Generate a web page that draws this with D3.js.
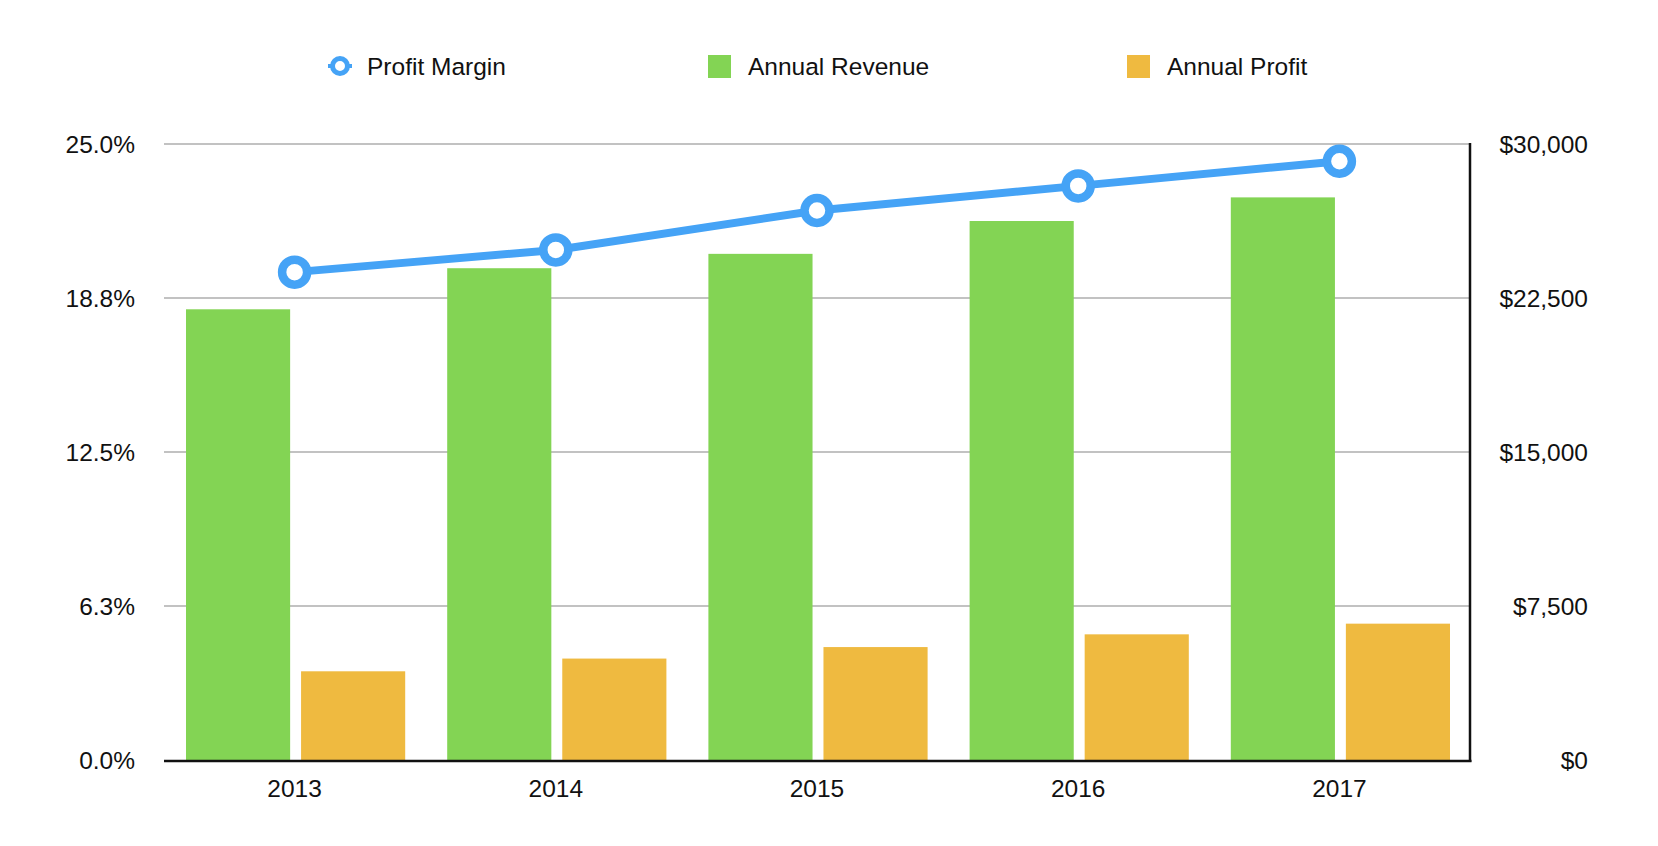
<!DOCTYPE html>
<html>
<head>
<meta charset="utf-8">
<script src="https://cdn.jsdelivr.net/npm/d3@7"></script>
<style>
  body { margin: 0; background: #fff; }
  svg { display: block; font-family: "Liberation Sans", Arial, Helvetica, sans-serif; }
</style>
</head>
<body>
<svg id="chart" width="1658" height="846"></svg>
<script>
var years = ["2013", "2014", "2015", "2016", "2017"];
var revenue = [21950, 23950, 24650, 26250, 27400];
var profit = [4320, 4940, 5500, 6120, 6640];
var margin = [19.8, 20.7, 22.3, 23.3, 24.3];
var leftTicks = [0, 6.25, 12.5, 18.75, 25];
var leftTickLabels = ["0.0%", "6.3%", "12.5%", "18.8%", "25.0%"];
var rightTicks = [0, 7500, 15000, 22500, 30000];

var seriesNames = ["Profit Margin", "Annual Revenue", "Annual Profit"];
var colors = { line: "#45a3f6", revenue: "#83d454", profit: "#efba40" };

var svg = d3.select("#chart");
var m = { left: 164, right: 1470, top: 144, bottom: 760 };
var fs = 24.5;

var x = d3.scaleBand().domain(years).range([m.left, m.right]).padding(0);
var xInner = d3.scaleBand().domain(["rev", "prof"])
    .range([22, x.bandwidth() - 20]).paddingInner(0.095);
var yLeft = d3.scaleLinear().domain([0, 25]).range([m.bottom, m.top]);
var yRight = d3.scaleLinear().domain([0, 30000]).range([m.bottom, m.top]);

// gridlines
svg.append("g").selectAll("line")
    .data(leftTicks.slice(1))
    .join("line")
    .attr("x1", m.left).attr("x2", m.right)
    .attr("y1", d => yLeft(d)).attr("y2", d => yLeft(d))
    .attr("stroke", "#c2c2c2").attr("stroke-width", 2);

// bars
var groups = svg.append("g").selectAll("g")
    .data(years)
    .join("g")
    .attr("transform", d => "translate(" + x(d) + ",0)");

groups.append("rect")
    .attr("x", xInner("rev"))
    .attr("width", xInner.bandwidth())
    .attr("y", (d, i) => yRight(revenue[i]))
    .attr("height", (d, i) => yRight(0) - yRight(revenue[i]))
    .attr("fill", colors.revenue);

groups.append("rect")
    .attr("x", xInner("prof"))
    .attr("width", xInner.bandwidth())
    .attr("y", (d, i) => yRight(profit[i]))
    .attr("height", (d, i) => yRight(0) - yRight(profit[i]))
    .attr("fill", colors.profit);

// axes lines
svg.append("line")
    .attr("x1", m.left).attr("x2", m.right + 1.5)
    .attr("y1", m.bottom + 1).attr("y2", m.bottom + 1)
    .attr("stroke", "#111").attr("stroke-width", 2.5);
svg.append("line")
    .attr("x1", m.right).attr("x2", m.right)
    .attr("y1", m.top - 1).attr("y2", m.bottom + 2)
    .attr("stroke", "#111").attr("stroke-width", 2.5);

// left axis labels
svg.append("g").selectAll("text")
    .data(leftTicks)
    .join("text")
    .attr("x", 135)
    .attr("y", d => yLeft(d))
    .attr("dy", "0.35em")
    .attr("text-anchor", "end")
    .attr("font-size", fs)
    .attr("fill", "#111")
    .text((d, i) => leftTickLabels[i]);

// right axis labels
var fmt = d3.format("$,");
svg.append("g").selectAll("text")
    .data(rightTicks)
    .join("text")
    .attr("x", 1588)
    .attr("y", d => yRight(d))
    .attr("dy", "0.35em")
    .attr("text-anchor", "end")
    .attr("font-size", fs)
    .attr("fill", "#111")
    .text(d => fmt(d));

// x labels
svg.append("g").selectAll("text")
    .data(years)
    .join("text")
    .attr("x", d => x(d) + x.bandwidth() / 2)
    .attr("y", 797)
    .attr("text-anchor", "middle")
    .attr("font-size", fs)
    .attr("fill", "#111")
    .text(d => d);

// line
var lineGen = d3.line()
    .x((d, i) => x(years[i]) + x.bandwidth() / 2)
    .y(d => yLeft(d));

svg.append("path")
    .datum(margin)
    .attr("d", lineGen)
    .attr("fill", "none")
    .attr("stroke", colors.line)
    .attr("stroke-width", 8);

svg.append("g").selectAll("circle")
    .data(margin)
    .join("circle")
    .attr("cx", (d, i) => x(years[i]) + x.bandwidth() / 2)
    .attr("cy", d => yLeft(d))
    .attr("r", 12.5)
    .attr("fill", "#fff")
    .attr("stroke", colors.line)
    .attr("stroke-width", 8.5);

// legend
var leg = svg.append("g").attr("font-size", fs).attr("fill", "#111");
var ly = 66;

leg.append("line")
    .attr("x1", 328).attr("x2", 352)
    .attr("y1", ly).attr("y2", ly)
    .attr("stroke", colors.line).attr("stroke-width", 4);
leg.append("circle")
    .attr("cx", 340).attr("cy", ly).attr("r", 7.5)
    .attr("fill", "#fff").attr("stroke", colors.line).attr("stroke-width", 5);
leg.append("text").attr("x", 367).attr("y", ly).attr("dy", "0.35em").text(seriesNames[0]);

leg.append("rect").attr("x", 708).attr("y", 55).attr("width", 23).attr("height", 23)
    .attr("fill", colors.revenue);
leg.append("text").attr("x", 748).attr("y", ly).attr("dy", "0.35em").text(seriesNames[1]);

leg.append("rect").attr("x", 1127).attr("y", 55).attr("width", 23).attr("height", 23)
    .attr("fill", colors.profit);
leg.append("text").attr("x", 1167).attr("y", ly).attr("dy", "0.35em").text(seriesNames[2]);
</script>
</body>
</html>
